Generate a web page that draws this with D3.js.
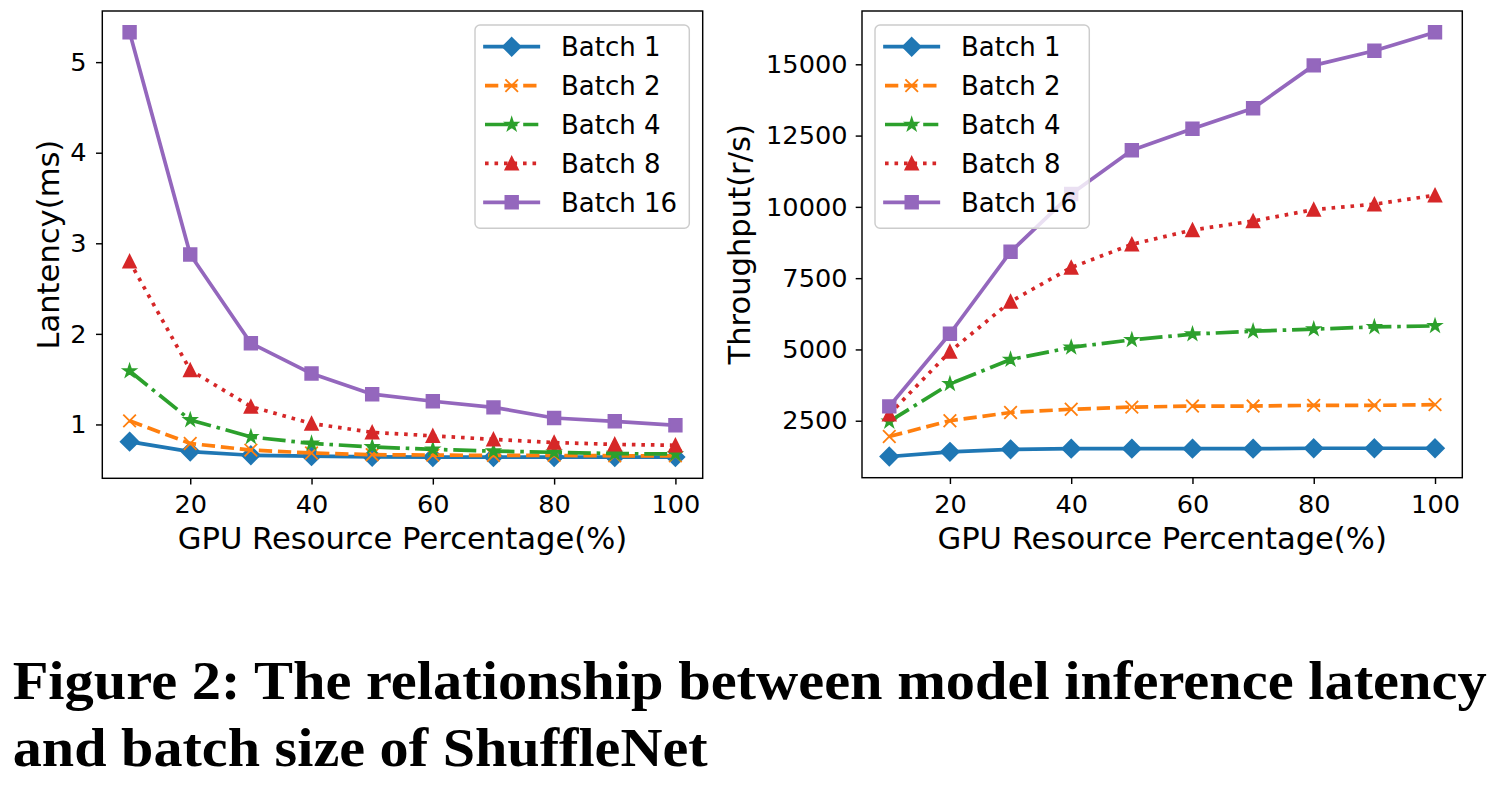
<!DOCTYPE html>
<html><head><meta charset="utf-8">
<script src="https://cdn.jsdelivr.net/npm/d3@7"></script>
<style>body{margin:0;background:#fff} svg{display:block}</style>
</head><body>
<svg id="c" width="1501" height="791"></svg>
<script>
// ---------- data ----------
const gpuPct = [10, 20, 30, 40, 50, 60, 70, 80, 90, 100];
const batchLabels = ["Batch 1", "Batch 2", "Batch 4", "Batch 8", "Batch 16"];

const latencyB1  = [0.81, 0.70, 0.66, 0.65, 0.643, 0.64, 0.64, 0.64, 0.64, 0.64];
const latencyB2  = [1.04, 0.79, 0.717, 0.685, 0.666, 0.662, 0.658, 0.658, 0.654, 0.654];
const latencyB4  = [1.59, 1.05, 0.862, 0.79, 0.752, 0.725, 0.705, 0.693, 0.678, 0.674];
const latencyB8  = [2.80, 1.60, 1.197, 1.01, 0.913, 0.874, 0.835, 0.80, 0.78, 0.77];
const latencyB16 = [5.33, 2.876, 1.897, 1.562, 1.334, 1.256, 1.189, 1.071, 1.035, 0.992];

const thrB1  = [1246, 1408, 1496, 1521, 1521, 1521, 1521, 1534, 1534, 1534];
const thrB2  = [1948, 2500, 2789, 2902, 2977, 3015, 3015, 3040, 3040, 3065];
const thrB4  = [2475, 3793, 4646, 5073, 5336, 5537, 5638, 5713, 5788, 5826];
const thrB8  = [2726, 4922, 6679, 7871, 8687, 9189, 9503, 9904, 10093, 10407];
const thrB16 = [3002, 5550, 8424, 10450, 11988, 12741, 13456, 14962, 15477, 16125];

const xTicks = [20, 40, 60, 80, 100];
const latTicks = [1, 2, 3, 4, 5];
const thrTicks = [2500, 5000, 7500, 10000, 12500, 15000];

const captionLines = ["Figure 2: The relationship between model inference latency",
                      "and batch size of ShuffleNet"];

// ---------- styles ----------
const colors = ["#1f77b4", "#ff7f0e", "#2ca02c", "#d62728", "#9467bd"];
const dashes = [null, "13.3,5.8", "23,5.8,3.6,5.8", "3.6,5.9", null];
const markers = ["D", "x", "*", "^", "s"];
const LW = 3.7, MR = 6.3, MEW = 1.8;
const FONT = "'DejaVu Sans', sans-serif";

const svg = d3.select("#c");
svg.append("rect").attr("width", 1501).attr("height", 791).attr("fill", "#fff");

function markerPath(type, r) {
  if (type === "D") { const d = r * Math.SQRT2; return `M0,${-d}L${d},0L0,${d}L${-d},0Z`; }
  if (type === "s") return `M${-r},${-r}H${r}V${r}H${-r}Z`;
  if (type === "^") return `M0,${-r}L${r},${r}L${-r},${r}Z`;
  if (type === "x") return `M${-r},${-r}L${r},${r}M${-r},${r}L${r},${-r}`;
  if (type === "*") {
    const p = [];
    for (let i = 0; i < 10; i++) {
      const a = -Math.PI / 2 + i * Math.PI / 5;
      const rr = i % 2 === 0 ? r : r * 0.381966;
      p.push([rr * Math.cos(a), rr * Math.sin(a)]);
    }
    return "M" + p.map(q => q[0].toFixed(2) + "," + q[1].toFixed(2)).join("L") + "Z";
  }
}

function drawMarker(g, type, color, x, y) {
  const p = g.append("path").attr("d", markerPath(type, MR))
    .attr("transform", `translate(${x},${y})`)
    .attr("stroke", color).attr("stroke-width", MEW).attr("stroke-linejoin", "miter");
  p.attr("fill", type === "x" ? "none" : color);
}

function styleLine(sel, i) {
  sel.attr("fill", "none").attr("stroke", colors[i]).attr("stroke-width", LW)
     .attr("stroke-linejoin", "round")
     .attr("stroke-linecap", dashes[i] ? "butt" : "square");
  if (dashes[i]) sel.attr("stroke-dasharray", dashes[i]);
}

function padded(arrs) {
  const all = arrs.flat();
  const lo = d3.min(all), hi = d3.max(all), m = (hi - lo) * 0.05;
  return [lo - m, hi + m];
}

function panel(opts) {
  const { left, right, top, bottom, series, yTicks, yFmt, yPad, yLabel, yLabelX, legendX } = opts;
  const x = d3.scaleLinear().domain([5.5, 104.5]).range([left, right]);
  const y = d3.scaleLinear().domain(padded(series)).range([bottom, top]);
  const g = svg.append("g");

  series.forEach((vals, i) => {
    const line = d3.line().x((d, k) => x(gpuPct[k])).y(d => y(d));
    styleLine(g.append("path").datum(vals).attr("d", line), i);
    const mg = g.append("g");
    vals.forEach((v, k) => drawMarker(mg, markers[i], colors[i], x(gpuPct[k]), y(v)));
  });

  const ax = g.append("g").attr("transform", `translate(0,${bottom})`)
    .call(d3.axisBottom(x).tickValues(xTicks).tickSize(6.3).tickPadding(10.4).tickSizeOuter(0));
  const ay = g.append("g").attr("transform", `translate(${left},0)`)
    .call(d3.axisLeft(y).tickValues(yTicks).tickFormat(yFmt).tickSize(6.3).tickPadding(yPad).tickSizeOuter(0));
  [ax, ay].forEach(a => {
    a.select(".domain").remove();
    a.selectAll(".tick line").attr("stroke", "#000").attr("stroke-width", 1.44);
    a.selectAll(".tick text").attr("fill", "#000").style("font-family", FONT).style("font-size", "25.6px");
  });

  g.append("rect").attr("x", left).attr("y", top).attr("width", right - left).attr("height", bottom - top)
    .attr("fill", "none").attr("stroke", "#000").attr("stroke-width", 1.44);

  g.append("text").attr("x", (left + right) / 2).attr("y", 549).attr("text-anchor", "middle")
    .style("font-family", FONT).style("font-size", "30.6px").text("GPU Resource Percentage(%)");
  g.append("text").attr("transform", `translate(${yLabelX},${(top + bottom) / 2}) rotate(-90)`)
    .attr("text-anchor", "middle")
    .style("font-family", FONT).style("font-size", "30.6px").text(yLabel);

  const lg = g.append("g").attr("transform", `translate(${legendX},25)`);
  lg.append("rect").attr("width", 214.3).attr("height", 203.3).attr("rx", 5).attr("ry", 5)
    .attr("fill", "#fff").attr("fill-opacity", 0.8).attr("stroke", "#cccccc").attr("stroke-width", 1.44);
  batchLabels.forEach((lab, i) => {
    const yy = 21.7 + i * 38.9;
    styleLine(lg.append("path").attr("d", `M10,${yy}H63.3`), i);
    drawMarker(lg, markers[i], colors[i], 36.7, yy);
    lg.append("text").attr("x", 86).attr("y", yy).attr("dy", "0.36em")
      .style("font-family", FONT).style("font-size", "26px").text(lab);
  });
}

panel({ left: 102.3, right: 702.7, top: 11, bottom: 478.3,
  series: [latencyB1, latencyB2, latencyB4, latencyB8, latencyB16],
  yTicks: latTicks, yFmt: d3.format("d"), yPad: 9.5, yLabel: "Lantency(ms)", yLabelX: 58.5, legendX: 475 });

panel({ left: 862, right: 1462.3, top: 11, bottom: 477.7,
  series: [thrB1, thrB2, thrB4, thrB8, thrB16],
  yTicks: thrTicks, yFmt: d3.format("d"), yPad: 8.2, yLabel: "Throughput(r/s)", yLabelX: 749.5, legendX: 875 });

const capLens = [1474, 695];
captionLines.forEach((t, i) => {
  svg.append("text").attr("x", 12.7).attr("y", 699 + i * 67)
    .attr("textLength", capLens[i]).attr("lengthAdjust", "spacingAndGlyphs")
    .style("font-family", "'Liberation Serif', serif").style("font-weight", "bold").style("font-size", "55px")
    .text(t);
});
</script>
</body></html>
